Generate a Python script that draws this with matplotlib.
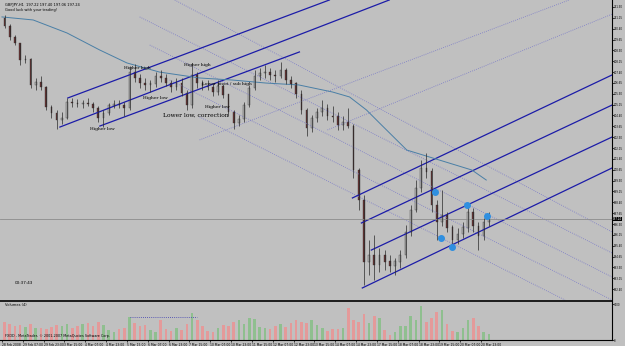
import matplotlib
matplotlib.use("Agg")
from matplotlib import pyplot as plt
import numpy as np

# 4-hour candles (GBPJPY, 28 Feb - 21 Mar 2008)
opens = [211.14, 210.58, 209.82, 209.41, 208.23, 208.30, 206.51, 206.71, 206.37, 204.99,
         204.57, 204.09, 204.23, 205.33, 205.26, 205.19, 205.26, 205.19, 204.92, 204.23,
         204.57, 205.06, 205.19, 205.12, 204.92, 207.40, 206.99, 206.64, 206.51, 206.58,
         207.13, 206.99, 206.64, 206.37, 206.64, 205.95, 205.12, 207.20, 206.64, 206.44,
         206.37, 206.02, 206.44, 205.82, 204.64, 203.88, 204.16, 205.12, 206.30, 207.13,
         207.34, 207.40, 207.20, 207.13, 207.54, 206.85, 206.58, 205.88, 204.78, 203.54,
         204.23, 204.64, 204.92, 204.36, 204.30, 203.74, 203.95, 203.67, 200.63, 198.56,
         194.28, 194.76, 194.07, 194.76, 194.28, 194.00, 194.28, 194.76, 196.35, 197.87,
         199.39, 200.77, 200.50, 198.21, 197.04, 197.52, 196.63, 195.80, 196.21, 196.63,
         197.73, 196.76, 196.07, 197.04]
highs = [211.34, 210.72, 209.96, 209.41, 208.58, 208.37, 206.99, 207.13, 206.45, 205.12,
         204.78, 204.64, 205.61, 205.61, 205.54, 205.47, 205.61, 205.33, 205.06, 204.78,
         205.26, 205.47, 205.47, 205.33, 207.82, 207.96, 207.27, 206.99, 206.85, 207.40,
         207.54, 207.27, 206.85, 206.99, 206.99, 206.16, 208.03, 207.40, 206.85, 206.85,
         206.64, 206.85, 206.58, 205.88, 204.78, 204.43, 205.33, 206.51, 207.54, 207.68,
         207.89, 207.68, 207.54, 208.10, 207.68, 207.13, 206.71, 206.16, 204.92, 204.43,
         204.92, 205.47, 205.19, 205.06, 204.64, 204.36, 204.92, 203.81, 200.77, 198.91,
         195.80, 196.14, 195.24, 195.10, 194.76, 194.55, 195.10, 196.83, 198.21, 199.94,
         201.32, 201.81, 200.77, 198.56, 199.25, 197.73, 196.83, 196.63, 197.04, 198.35,
         198.01, 197.04, 197.32, 197.73]
lows = [210.45, 209.62, 209.27, 207.89, 208.03, 206.30, 206.16, 206.16, 204.78, 204.23,
        203.47, 203.81, 204.16, 204.99, 204.99, 204.92, 205.06, 204.64, 203.95, 203.60,
        204.43, 204.92, 204.92, 204.36, 204.78, 206.71, 206.30, 206.16, 206.02, 206.37,
        206.71, 206.44, 206.02, 206.16, 205.75, 204.78, 204.92, 206.30, 206.16, 206.16,
        205.75, 205.82, 205.61, 204.36, 203.47, 203.67, 203.95, 204.99, 206.16, 206.85,
        206.99, 206.85, 206.71, 206.99, 206.58, 206.30, 205.61, 204.50, 202.98, 203.26,
        203.95, 204.36, 204.09, 203.95, 203.40, 203.40, 203.54, 200.08, 197.87, 192.69,
        193.38, 193.03, 193.58, 193.72, 193.58, 193.38, 193.86, 194.55, 196.07, 197.73,
        199.11, 200.08, 197.73, 195.80, 196.76, 196.35, 195.24, 195.52, 195.93, 196.35,
        196.35, 195.10, 195.80, 196.76]
closes = [210.58, 209.82, 209.41, 208.23, 208.30, 206.51, 206.71, 206.37, 204.99, 204.57,
          204.09, 204.23, 205.33, 205.26, 205.19, 205.26, 205.19, 204.92, 204.23, 204.57,
          205.06, 205.19, 205.12, 204.92, 207.40, 206.99, 206.64, 206.51, 206.58, 207.13,
          206.99, 206.64, 206.37, 206.64, 205.95, 205.12, 207.20, 206.64, 206.44, 206.37,
          206.02, 206.44, 205.82, 204.64, 203.88, 204.16, 205.12, 206.30, 207.13, 207.34,
          207.40, 207.20, 207.13, 207.54, 206.85, 206.58, 205.88, 204.78, 203.54, 204.23,
          204.64, 204.92, 204.36, 204.30, 203.74, 203.95, 203.67, 200.63, 198.56, 194.28,
          194.76, 194.07, 194.76, 194.28, 194.00, 194.28, 194.76, 196.35, 197.87, 199.39,
          200.77, 200.50, 198.21, 197.04, 197.52, 196.63, 195.80, 196.21, 196.63, 197.73,
          196.76, 196.07, 197.04, 197.24]
volumes = [1800, 1600, 1400, 1500, 1300, 1600, 1200, 1200, 1100, 1300, 1500, 1400,
           1600, 1200, 1400, 1600, 1700, 1400, 1800, 1500, 1000, 800, 1100, 1200,
           2300, 1700, 1400, 1500, 1000, 800, 2000, 1100, 900, 1200, 1000, 1600,
           2700, 2000, 1400, 900, 800, 1200, 1500, 1400, 1800, 2000, 1600, 2200,
           2100, 1300, 1200, 1100, 1400, 1600, 1300, 1700, 2000, 1800, 1700, 2000,
           1500, 1200, 900, 1100, 1100, 1200, 3200, 2000, 1800, 2600, 1700, 2400,
           2200, 1000, 500, 800, 1400, 1400, 2400, 2000, 3400, 1800, 2200, 2800,
           3000, 1600, 900, 800, 1200, 2000, 2200, 1400, 800, 600]

# moving average knots (hour, price)
ma_hours = [0, 24, 50, 75, 96, 121, 152, 177, 203, 228, 254, 267, 280, 290, 311, 336, 361, 372]
ma_price = [211.21, 211.00, 210.10, 208.93, 208.03, 207.40, 206.99, 206.85, 206.64, 206.51,
            206.02, 205.68, 204.78, 203.88, 202.01, 201.32, 200.63, 199.94]

# trend lines: (hour1, price1, hour2, price2)
solid_lines = [
    (50.6, 205.61, 251.5, 212.38),
    (44.5, 203.60, 297.5, 212.38),
    (75.2, 203.67, 228.5, 208.79),
    (269.2, 198.70, 468.6, 207.20),
    (276.1, 196.97, 468.6, 205.12),
    (283.7, 195.10, 468.6, 202.91),
    (276.8, 192.48, 468.6, 200.77),
]
dotted_lines = [
    (132.7, 212.38, 468.6, 196.35),
    (105.8, 211.21, 468.6, 194.90),
    (113.5, 209.27, 468.6, 193.24),
    (128.8, 206.85, 468.6, 191.65),
    (151.8, 204.30, 432.5, 191.65),
    (151.8, 202.71, 435.6, 212.38),
    (250.0, 203.40, 468.6, 211.40),
]
dots_hours = [332.6, 337.2, 345.9, 357.4, 372.7]
dots_price = [199.11, 195.93, 195.31, 198.21, 197.45]

date_labels = ["28 Feb 2008", "29 Feb 07:00", "29 Feb 23:00", "3 Mar 15:00", "4 Mar 07:00",
               "4 Mar 23:00", "5 Mar 15:00", "6 Mar 07:00", "6 Mar 23:00", "7 Mar 15:00",
               "10 Mar 07:00", "10 Mar 23:00", "11 Mar 15:00", "12 Mar 07:00", "12 Mar 23:00",
               "13 Mar 15:00", "14 Mar 07:00", "14 Mar 23:00", "17 Mar 15:00", "18 Mar 07:00",
               "18 Mar 23:00", "19 Mar 15:00", "20 Mar 07:00", "20 Mar 23:00"]

notes = [
    (94.0, 207.60, "Higher high", 3.2),
    (140.0, 207.80, "Higher high", 3.2),
    (108.0, 205.55, "Higher low", 3.2),
    (154.0, 206.50, "Lower pivot / sub high", 3.2),
    (156.0, 204.90, "Higher low", 3.2),
    (68.0, 203.40, "Higher low", 3.2),
    (124.0, 204.30, "Lower low, correction", 4.3),
]

bg = "#c0c0c0"
W, H = 625, 346
fig = plt.figure(figsize=(W / 100, H / 100), dpi=100, facecolor=bg)
ax = fig.add_axes([0, 45 / H, 612 / W, 301 / H], facecolor=bg)
axv = fig.add_axes([0, 6 / H, 612 / W, 38 / H], facecolor=bg, sharex=ax)

hours = 4 * np.arange(len(opens)) + 2
o = np.array(opens); c = np.array(closes)
up = c >= o

# lines first so candles sit on top
for h1, p1, h2, p2 in dotted_lines:
    ax.plot([h1, h2], [p1, p2], color="#7a7ac8", lw=0.6, ls=(0, (1, 1.5)))
for h1, p1, h2, p2 in solid_lines:
    ax.plot([h1, h2], [p1, p2], color="#1c1ca8", lw=0.9)
ax.plot(ma_hours, ma_price, color="#4a7fa6", lw=0.7)
ax.axhline(closes[-1], color="#8c8c8c", lw=0.6)

ax.vlines(hours, lows, highs, color="#2a2a2a", lw=0.5)
ax.bar(hours, np.abs(c - o) + 0.03, bottom=np.minimum(o, c), width=1.3,
       color=np.where(up, "#b4b4b4", "#6a3434"), edgecolor="#2a2a2a", linewidth=0.25)
ax.scatter(dots_hours, dots_price, s=16, color="#2f8fe0", zorder=5)

for h, p, t, fs in notes:
    ax.text(h, p, t, fontsize=fs, color="black", family="DejaVu Serif")

ax.text(2, 212.2, "GBPJPY,H1  197.22 197.40 197.06 197.24", fontsize=2.6, va="top")
ax.text(2, 211.8, "Good luck with your trading!", fontsize=2.6, va="top")
ax.text(10, 192.75, "00:37:43", fontsize=3.0)

ax.set_xlim(-1.5, 468.6)
ax.set_ylim(191.58, 212.38)
ticks = np.arange(192.40, 211.95, 0.75)
ax.set_yticks(ticks)
ax.set_yticklabels(["%.2f" % t for t in ticks])
ax.yaxis.tick_right()
ax.tick_params(axis="y", labelsize=1.9, length=1.2, width=0.5, pad=0.3, colors="black")
ax.tick_params(axis="x", bottom=False, labelbottom=False)
for s in ["top", "left"]:
    ax.spines[s].set_visible(False)
ax.spines["right"].set_linewidth(0.8)
ax.spines["bottom"].set_linewidth(1.2)

ax.text(469.0, closes[-1], "%.2f" % closes[-1], fontsize=1.9, color="white", va="center",
        ha="left", bbox=dict(boxstyle="square,pad=0.1", fc="black", ec="none"), clip_on=False)

axv.bar(hours, volumes, width=2.0, color=np.where(up, "#8fbf8f", "#e49a9a"))
axv.plot([98, 150], [2300, 2300], color="#3a3ab0", lw=0.6, ls=(0, (1, 1.5)))
axv.set_ylim(0, 3800)
axv.set_yticks([0, 3600])
axv.set_yticklabels(["0", "3600"])
axv.yaxis.tick_right()
axv.tick_params(axis="y", labelsize=1.9, length=1.2, width=0.5, pad=0.3)
axv.set_xticks(16 * np.arange(len(date_labels)))
axv.set_xticklabels(date_labels, ha="left")
axv.tick_params(axis="x", labelsize=2.2, length=1.5, width=0.5, pad=0.5)
for s in ["top", "left"]:
    axv.spines[s].set_visible(False)
axv.spines["right"].set_linewidth(0.8)
axv.spines["bottom"].set_linewidth(0.8)
axv.text(2, 3700, "Volumes (4)", fontsize=2.6, va="top")
axv.text(2, 350, "FXDD - MetaTrader, \u00a9 2001-2007 MetaQuotes Software Corp.", fontsize=2.4)

fig.savefig("out.png", dpi=100, facecolor=bg)
